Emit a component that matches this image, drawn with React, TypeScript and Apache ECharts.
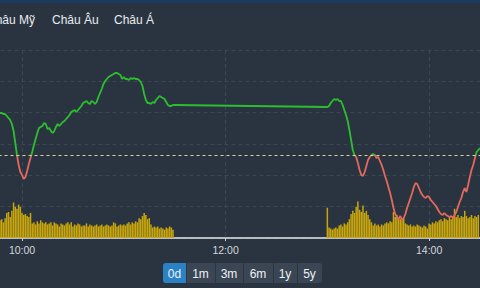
import React, { useEffect, useRef } from 'react';
import * as echarts from 'echarts';

// Minutes since midnight
const MORNING_START = 587; // 09:47 (left edge of the visible part)
const AFTERNOON_START = 780; // 13:00
const REFERENCE_PRICE = 1254.15;

const tabs = ['Châu Mỹ', 'Châu Âu', 'Châu Á'];
const periods = ['0d', '1m', '3m', '6m', '1y', '5y'];
const timeLabels = [600, 720, 840]; // 10:00, 12:00, 14:00

// one value per minute, 09:47 -> 11:30
const morningPrice = [
  1256.25, 1256.25, 1256.2, 1256.2, 1256.1, 1256.0, 1255.9, 1255.7, 1255.35, 1254.75,
  1254.15, 1253.65, 1253.3, 1253.15, 1252.95, 1253.05, 1253.35, 1253.7, 1254.0, 1254.3,
  1254.65, 1254.95, 1255.25, 1255.5, 1255.55, 1255.6, 1255.75, 1255.7, 1255.45, 1255.5,
  1255.35, 1255.25, 1255.35, 1255.55, 1255.7, 1255.6, 1255.7, 1255.8, 1255.85, 1255.95,
  1256.05, 1256.15, 1256.3, 1256.35, 1256.4, 1256.3, 1256.4, 1256.5, 1256.6, 1256.75,
  1256.8, 1256.85, 1256.75, 1256.7, 1256.85, 1256.8, 1256.7, 1256.8, 1257.05, 1257.25,
  1257.45, 1257.7, 1257.85, 1257.95, 1258.05, 1258.1, 1258.15, 1258.2, 1258.25, 1258.25,
  1258.2, 1258.15, 1257.95, 1258.05, 1257.95, 1257.95, 1257.9, 1258.0, 1257.95, 1258.0,
  1257.95, 1257.95, 1257.9, 1257.8, 1257.6, 1257.2, 1256.9, 1256.75, 1256.75, 1256.7,
  1256.8, 1256.75, 1256.9, 1257.0, 1257.1, 1257.05, 1257.0, 1256.95, 1256.8, 1256.65,
  1256.6, 1256.6, 1256.65, 1256.65,
];

// one value per minute, 13:00 -> 14:30
const afternoonPrice = [
  1256.55, 1256.6, 1256.75, 1256.85, 1256.95, 1256.9, 1256.95, 1256.85, 1256.85, 1256.65,
  1256.4, 1256.15, 1255.85, 1255.4, 1254.9, 1254.4, 1254.15, 1254.05, 1253.75, 1253.4,
  1253.15, 1253.1, 1253.3, 1253.6, 1253.9, 1254.05, 1254.15, 1254.2, 1254.15, 1254.0,
  1254.05, 1253.85, 1253.65, 1253.4, 1253.1, 1252.85, 1252.55, 1252.25, 1251.9, 1251.5,
  1251.2, 1251.05, 1250.95, 1251.1, 1250.9, 1251.0, 1251.2, 1251.5, 1251.75, 1252.0,
  1252.25, 1252.55, 1252.75, 1252.7, 1252.5, 1252.3, 1252.15, 1252.05, 1252.0, 1252.1,
  1252.05, 1251.9, 1251.8, 1251.7, 1251.6, 1251.45, 1251.3, 1251.2, 1251.15, 1251.25,
  1251.15, 1251.1, 1251.05, 1251.1, 1251.0, 1251.15, 1251.3, 1251.55, 1251.8, 1252.0,
  1252.3, 1252.5, 1252.3, 1252.65, 1253.05, 1253.4, 1253.65, 1254.0, 1254.3, 1254.4,
  1254.5,
];

// volume per minute, 09:47 -> 11:29
const morningVolume = [
  17, 18, 15, 19, 24, 25, 20, 26, 34, 30,
  28, 32, 30, 24, 22, 23, 21, 20, 24, 14,
  15, 13, 16, 14, 17, 15, 14, 15, 13, 14,
  15, 12, 15, 14, 13, 11, 14, 13, 12, 14,
  15, 13, 15, 11, 13, 12, 14, 13, 11, 12,
  12, 14, 11, 13, 12, 11, 12, 13, 11, 12,
  13, 11, 12, 13, 12, 11, 12, 15, 14, 11,
  12, 13, 12, 13, 12, 14, 15, 13, 15, 14,
  16, 15, 19, 18, 21, 24, 22, 18, 19, 13,
  10, 11, 10, 11, 9, 10, 9, 8, 10, 9,
  11, 10, 8,
];

// volume per minute, 13:00 -> 14:29
const afternoonVolume = [
  29, 10, 9, 8, 9, 10, 9, 12, 13, 11,
  14, 13, 15, 18, 23, 26, 24, 30, 35, 27,
  25, 31, 24, 26, 22, 18, 15, 12, 14, 12,
  13, 11, 13, 12, 14, 15, 14, 16, 15, 25,
  20, 22, 19, 18, 17, 19, 14, 13, 12, 13,
  11, 12, 11, 13, 12, 11, 10, 12, 11, 9,
  14, 13, 15, 14, 16, 15, 17, 18, 16, 19,
  18, 17, 20, 18, 21, 28, 20, 22, 19, 21,
  20, 26, 21, 19, 20, 22, 19, 21, 20, 22,
];

const BG = '#2a3440';
const GREEN = '#2bbf2e';
const RED = '#e5685d';
const FONT = '"Liberation Sans", Arial, sans-serif';

function fmtTime(v: number) {
  const h = Math.floor(v / 60);
  const m = v % 60;
  return `${h}:${m < 10 ? '0' : ''}${m}`;
}

export default function App() {
  const ref = useRef<HTMLDivElement>(null);

  useEffect(() => {
    document.body.style.margin = '0';
    document.body.style.background = BG;
    const chart = echarts.init(ref.current!, null, { renderer: 'svg' });

    const priceData = [
      ...morningPrice.map((v, i) => [MORNING_START + i, v]),
      ...afternoonPrice.map((v, i) => [AFTERNOON_START + i, v]),
    ];
    const volumeData = [
      ...morningVolume.map((v, i) => [MORNING_START + i, v]),
      ...afternoonVolume.map((v, i) => [AFTERNOON_START + i, v]),
    ];

    // tabs
    const tabX = [-13, 52, 114];
    const graphics: any[] = [
      { type: 'rect', shape: { x: 0, y: 0, width: 480, height: 3 }, style: { fill: '#1c3a60' }, z: 10 },
    ];
    tabs.forEach((t, i) => {
      graphics.push({
        type: 'text',
        x: tabX[i],
        y: 20,
        style: { text: t, fill: '#e8ecf0', font: `12px ${FONT}`, textAlign: 'left', textVerticalAlign: 'middle' },
        z: 10,
      });
    });

    // period buttons
    const edges = [163, 186, 215, 243, 273, 297, 322];
    graphics.push({
      type: 'rect',
      shape: { x: edges[0], y: 263, width: edges[6] - edges[0], height: 20, r: 3 },
      style: { fill: '#3a4654' },
      z: 10,
    });
    graphics.push({
      type: 'rect',
      shape: { x: edges[0], y: 263, width: edges[1] - edges[0], height: 20, r: [3, 0, 0, 3] },
      style: { fill: '#2a82c5' },
      z: 11,
    });
    periods.forEach((p, i) => {
      if (i > 0) {
        graphics.push({
          type: 'line',
          shape: { x1: edges[i] + 0.5, y1: 263, x2: edges[i] + 0.5, y2: 283 },
          style: { stroke: '#2c3642', lineWidth: 1 },
          z: 12,
        });
      }
      graphics.push({
        type: 'text',
        x: (edges[i] + edges[i + 1]) / 2,
        y: 273.5,
        style: { text: p, fill: '#eef2f5', font: `12px ${FONT}`, textAlign: 'center', textVerticalAlign: 'middle' },
        z: 13,
      });
    });

    const pxPerMin = 480 / (870 - MORNING_START);
    const axisMin = 480;
    const axisMax = 960;

    chart.setOption({
      animation: false,
      backgroundColor: BG,
      grid: {
        left: -(MORNING_START - axisMin) * pxPerMin,
        width: (axisMax - axisMin) * pxPerMin,
        top: 50,
        height: 188,
        containLabel: false,
        outerBoundsMode: 'none',
      },
      xAxis: {
        type: 'value',
        min: axisMin,
        max: axisMax,
        interval: 120,
        axisLine: { show: true, lineStyle: { color: '#e6e9ec', width: 1.5 } },
        axisTick: { show: true, length: 3, lineStyle: { color: '#c8ccd0' } },
        axisLabel: {
          color: '#d4d8dc',
          fontSize: 10.5,
          fontFamily: FONT,
          margin: 6,
          formatter: (v: number) => (timeLabels.includes(v) ? fmtTime(v) : ''),
        },
        splitLine: { show: true, lineStyle: { color: '#3c4754', type: [4, 3], width: 1 } },
      },
      yAxis: [
        {
          type: 'value',
          min: 0,
          max: 180,
          interval: 30,
          axisLine: { show: false },
          axisTick: { show: false },
          axisLabel: { show: false },
          splitLine: { show: true, lineStyle: { color: '#3c4754', type: [4, 3], width: 1 } },
        },
        {
          type: 'value',
          min: 1250,
          max: 1259.4,
          axisLine: { show: false },
          axisTick: { show: false },
          axisLabel: { show: false },
          splitLine: { show: false },
        },
      ],
      visualMap: {
        type: 'piecewise',
        show: false,
        seriesIndex: 1,
        dimension: 1,
        pieces: [
          { gt: REFERENCE_PRICE, lte: 1300, color: GREEN },
          { gte: 1200, lte: REFERENCE_PRICE, color: RED },
        ],
        outOfRange: { color: GREEN },
      },
      series: [
        {
          type: 'bar',
          yAxisIndex: 0,
          data: volumeData,
          barWidth: 1.5,
          itemStyle: { color: '#c9a70c' },
          silent: true,
        },
        {
          type: 'line',
          yAxisIndex: 1,
          data: priceData,
          symbol: 'none',
          showSymbol: false,
          lineStyle: { width: 1.8 },
          silent: true,
          markLine: {
            silent: true,
            symbol: 'none',
            label: { show: false },
            lineStyle: { color: '#ddd3a0', type: [3, 3], width: 1 },
            data: [{ yAxis: REFERENCE_PRICE }],
          },
        },
      ],
      graphic: graphics,
    });

    return () => chart.dispose();
  }, []);

  return (
    <div
      ref={ref}
      style={{ width: 480, height: 288, position: 'fixed', left: 0, top: 0 }}
    />
  );
}
